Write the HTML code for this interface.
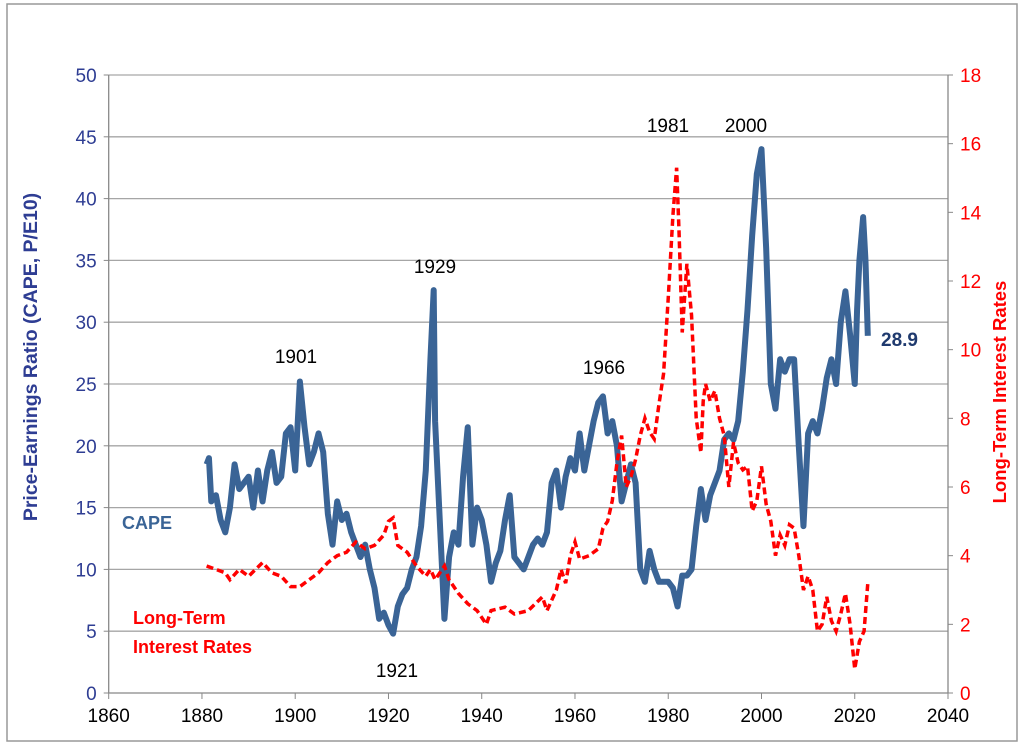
<!DOCTYPE html>
<html><head><meta charset="utf-8"><style>
body{margin:0;background:#fff}
svg{display:block;font-family:"Liberation Sans",sans-serif}
</style></head><body>
<svg id="c" width="1024" height="746">
<rect x="7" y="4" width="1010" height="737" fill="#fff" stroke="#999" stroke-width="1.5"/>
<g id="grid"></g><g id="series"></g><g id="axes"></g>
<text x="37" y="357" transform="rotate(-90 37 357)" text-anchor="middle" font-size="19.5" font-weight="bold" fill="#2e3d93">Price-Earnings Ratio (CAPE, P/E10)</text>
<text x="1006" y="392" transform="rotate(-90 1006 392)" text-anchor="middle" font-size="18.5" font-weight="bold" fill="#ff0000">Long-Term Interest Rates</text>
<text x="122" y="529" font-size="18" font-weight="bold" fill="#3a6496">CAPE</text>
<text x="133" y="624" font-size="18" font-weight="bold" fill="#ff0000">Long-Term</text>
<text x="133" y="653" font-size="18" font-weight="bold" fill="#ff0000">Interest Rates</text>
<text x="881" y="346" font-size="19" font-weight="bold" fill="#1f3a6e">28.9</text>
<text x="296" y="363" text-anchor="middle" font-size="19">1901</text>
<text x="435" y="273" text-anchor="middle" font-size="19">1929</text>
<text x="397" y="677" text-anchor="middle" font-size="19">1921</text>
<text x="604" y="374" text-anchor="middle" font-size="19">1966</text>
<text x="668" y="132" text-anchor="middle" font-size="19">1981</text>
<text x="746" y="132" text-anchor="middle" font-size="19">2000</text>
</svg>
<script>
const xTicks=[1860,1880,1900,1920,1940,1960,1980,2000,2020,2040];
const leftTicks=[0,5,10,15,20,25,30,35,40,45,50];
const rightTicks=[0,2,4,6,8,10,12,14,16,18];
const capeYears=[1881,1881.5,1882,1883,1884,1885,1886,1887,1888,1889,1890,1891,1892,1893,1894,1895,1896,1897,1898,1899,1900,1901,1902,1903,1904,1905,1906,1907,1908,1909,1910,1911,1912,1913,1914,1915,1916,1917,1918,1919,1920,1921,1922,1923,1924,1925,1926,1927,1928,1929,1929.7,1930,1931,1932,1933,1934,1935,1936,1937,1938,1939,1940,1941,1942,1943,1944,1945,1946,1947,1948,1949,1950,1951,1952,1953,1954,1955,1956,1957,1958,1959,1960,1961,1962,1963,1964,1965,1966,1967,1968,1969,1970,1971,1972,1973,1974,1975,1976,1977,1978,1979,1980,1981,1982,1983,1984,1985,1986,1987,1988,1989,1990,1991,1992,1993,1994,1995,1996,1997,1998,1999,2000,2001,2002,2003,2004,2005,2006,2007,2008,2009,2010,2011,2012,2013,2014,2015,2016,2017,2018,2019,2020,2020.5,2021,2021.8,2022.3,2022.8];
const capeValues=[18.5,19,15.5,16,14,13,15,18.5,16.5,17,17.5,15,18,15.5,18,19.5,17,17.5,21,21.5,18,25.2,21.5,18.5,19.5,21,19.5,14.5,12,15.5,14,14.5,13,12,11,12,10,8.5,6,6.5,5.5,4.8,7,8,8.5,10,11,13.5,18,27,32.6,22,14,6,11,13,12,17.5,21.5,12,15,14,12,9,10.5,11.5,14,16,11,10.5,10,11,12,12.5,12,13,17,18,15,17.5,19,18,21,18,20,22,23.5,24,21,22,20,15.5,17,18.5,17,10,9,11.5,10,9,9,9,8.5,7,9.5,9.5,10,13.5,16.5,14,16,17,18,20.5,21,20.5,22,26,31,37,42,44,36,25,23,27,26,27,27,20,13.5,21,22,21,23,25.5,27,25,30,32.5,29,25,31,35,38.5,35,28.9];
const rateYears=[1881,1885,1886,1888,1890,1893,1895,1897,1899,1901,1903,1905,1907,1909,1911,1913,1915,1917,1919,1920,1921,1922,1924,1926,1928,1929,1930,1931,1932,1933,1935,1937,1939,1941,1942,1945,1947,1950,1953,1954,1956,1957,1958,1959,1960,1961,1963,1965,1966,1967,1968,1969,1970,1971,1972,1973,1974,1975,1976,1977,1978,1979,1980,1981,1981.8,1982.3,1983,1984,1985,1986,1987,1987.5,1988,1989,1990,1991,1992,1993,1994,1995,1996,1997,1998,1999,2000,2001,2002,2003,2004,2005,2006,2007,2008,2009,2010,2011,2012,2013,2014,2015,2016,2017,2018,2019,2020,2021,2022,2022.8];
const rateValues=[3.7,3.5,3.3,3.6,3.4,3.8,3.5,3.4,3.1,3.1,3.3,3.5,3.8,4.0,4.1,4.4,4.2,4.3,4.6,5.0,5.1,4.3,4.1,3.7,3.4,3.6,3.3,3.5,3.7,3.3,2.9,2.6,2.4,2.0,2.4,2.5,2.3,2.4,2.8,2.4,3.0,3.6,3.2,4.0,4.4,3.9,4.0,4.2,4.8,5.0,5.6,6.7,7.5,6.0,6.3,6.8,7.5,8.0,7.6,7.4,8.4,9.3,11.5,13.9,15.3,13.5,10.5,12.5,11.0,8.0,7.0,8.5,9.0,8.5,8.8,8.0,7.5,6.0,7.3,6.7,6.5,6.6,5.3,5.6,6.6,5.5,5.0,4.0,4.6,4.3,4.9,4.8,4.0,3.0,3.4,3.0,1.8,2.0,2.8,2.1,1.8,2.3,2.9,2.0,0.7,1.5,1.8,3.2];
const L=108.7,R=948,T=75,B=693;
const x=v=>L+(v-1860)/(2040-1860)*(R-L);
const yl=v=>B-v/50*(B-T);
const yr=v=>B-v/18*(B-T);
const NS='http://www.w3.org/2000/svg';
function mk(tag,attrs,parent,txt){const e=document.createElementNS(NS,tag);for(const k in attrs)e.setAttribute(k,attrs[k]);if(txt!==undefined)e.textContent=txt;document.getElementById(parent).appendChild(e);return e;}
leftTicks.forEach(t=>{
  if(t>0){const g=mk('line',{x1:L,x2:R,y1:yl(t),y2:yl(t),stroke:'#a6a6a6','stroke-width':1.3},'grid');
  
  }
  const tx=mk('text',{x:L-12,y:yl(t)+7,'text-anchor':'end','font-size':19,fill:'#2e3d93'},'axes',t);
  
  
  const tk=mk('line',{x1:L-5,x2:L,y1:yl(t),y2:yl(t),stroke:'#888'},'axes');
  
  
});
rightTicks.forEach(t=>{
  const tx=mk('text',{x:R+12,y:yr(t)+7,'font-size':19,fill:'#ff0000'},'axes',t);
  
  
  const tk=mk('line',{x1:R,x2:R+5,y1:yr(t),y2:yr(t),stroke:'#888'},'axes');
  
  
});
xTicks.forEach(t=>{
  const tx=mk('text',{x:x(t),y:B+29,'text-anchor':'middle','font-size':19,fill:'#000'},'axes',t);
  
  
  const tk=mk('line',{x1:x(t),x2:x(t),y1:B,y2:B+6,stroke:'#888'},'axes');
  
  
});
const la=mk('line',{x1:L,x2:L,y1:T,y2:B,stroke:'#888','stroke-width':1.3},'axes');


const ra=mk('line',{x1:R,x2:R,y1:T,y2:B,stroke:'#888','stroke-width':1.3},'axes');


const xa=mk('line',{x1:L,x2:R,y1:B,y2:B,stroke:'#888','stroke-width':1.3},'axes');


const cp=mk('polyline',{points:capeYears.map((v,i)=>x(v)+','+yl(capeValues[i])).join(' '),fill:'none',stroke:'#3a6496','stroke-width':6,'stroke-linejoin':'round'},'series');


const rp=mk('polyline',{points:rateYears.map((v,i)=>x(v)+','+yr(rateValues[i])).join(' '),fill:'none',stroke:'#ff0000','stroke-width':3.5,'stroke-dasharray':'7 4'},'series');


</script>
</body></html>
